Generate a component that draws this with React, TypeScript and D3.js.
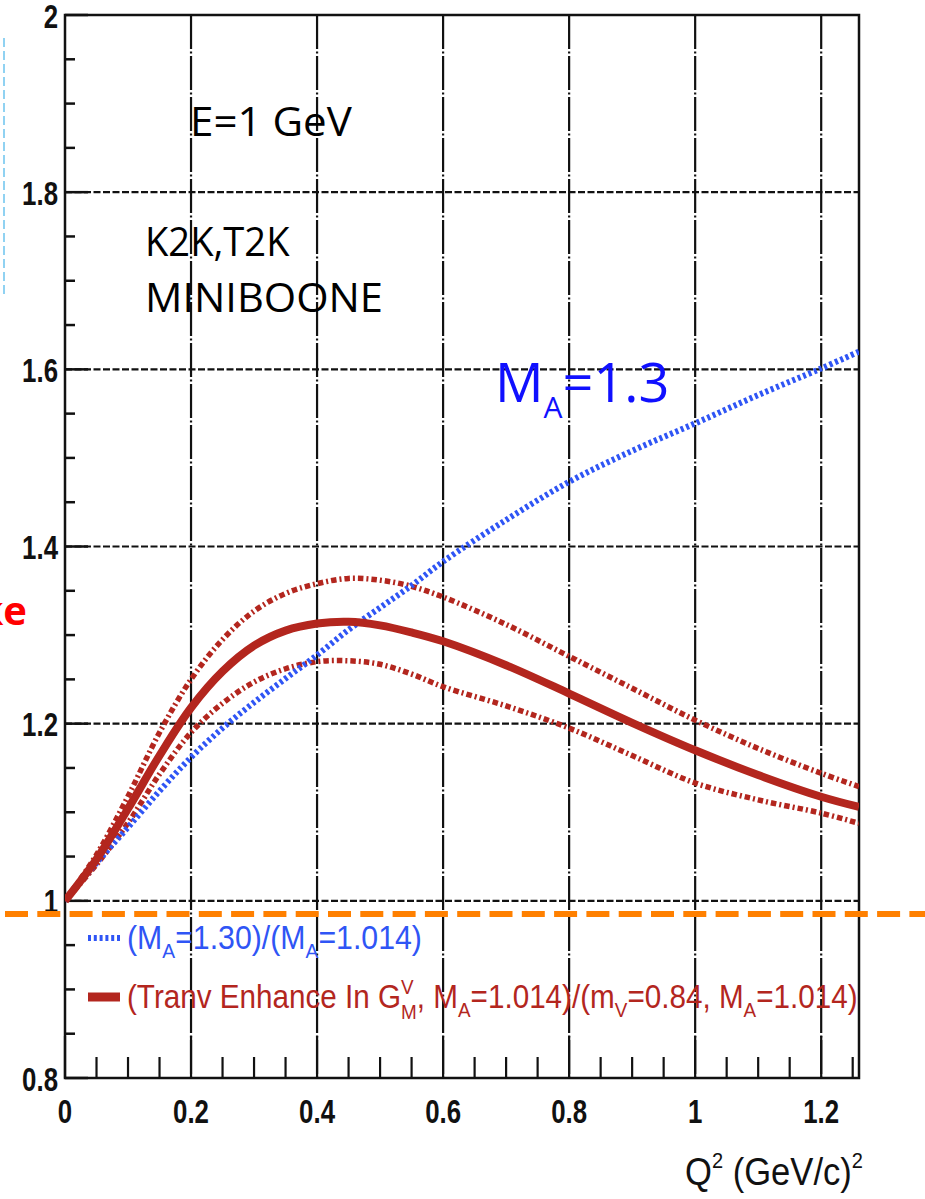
import React, { useLayoutEffect, useRef, useState } from "react";
import * as d3 from "d3";

// Q^2 sample points (GeV/c)^2
const q2 = [0, 0.05, 0.1, 0.15, 0.2, 0.25, 0.3, 0.35, 0.4, 0.45, 0.5, 0.55, 0.6, 0.7, 0.8, 0.9, 1.0, 1.1, 1.2, 1.26];
// (M_A=1.30)/(M_A=1.014)
const ratioMA = [1.0, 1.043, 1.083, 1.124, 1.162, 1.195, 1.224, 1.251, 1.2775, 1.306, 1.331, 1.356, 1.383, 1.43, 1.473, 1.508, 1.539, 1.571, 1.601, 1.62];
// Transverse enhancement ratio: central value and band edges
const tranvCentral = [1.0, 1.047, 1.104, 1.164, 1.218, 1.259, 1.288, 1.305, 1.313, 1.315, 1.311, 1.303, 1.293, 1.266, 1.234, 1.201, 1.17, 1.142, 1.1175, 1.106];
const tranvUpper = [1.0, 1.052, 1.118, 1.19, 1.25, 1.295, 1.327, 1.347, 1.358, 1.364, 1.362, 1.355, 1.343, 1.312, 1.276, 1.24, 1.204, 1.172, 1.144, 1.129];
const tranvLower = [1.0, 1.041, 1.088, 1.143, 1.19, 1.223, 1.247, 1.262, 1.27, 1.271, 1.267, 1.256, 1.2417, 1.22, 1.195, 1.164, 1.133, 1.114, 1.099, 1.0875];

const xMajorTicks = [0, 0.2, 0.4, 0.6, 0.8, 1.0, 1.2];
const xTickLabels = ["0", "0.2", "0.4", "0.6", "0.8", "1", "1.2"];
const yMajorTicks = [0.8, 1.0, 1.2, 1.4, 1.6, 1.8, 2.0];
const yTickLabels = ["0.8", "1", "1.2", "1.4", "1.6", "1.8", "2"];

const RED = "#b3261e";
const BLUE = "#2f55f5";

type FitProps = {
  x: number;
  y: number;
  width: number;
  anchor?: "start" | "end";
  children: React.ReactNode;
  [k: string]: any;
};

// Text whose horizontal extent is stretched/condensed to a given width.
function FitText({ x, y, width, anchor = "start", children, ...rest }: FitProps) {
  const ref = useRef<SVGTextElement>(null);
  const [sx, setSx] = useState(1);
  useLayoutEffect(() => {
    if (ref.current) {
      const w = ref.current.getBBox().width;
      if (w > 0) setSx(width / w);
    }
  }, [width]);
  return (
    <g transform={`translate(${x},${y}) scale(${sx},1)`}>
      <text ref={ref} x={0} y={0} textAnchor={anchor} {...rest}>
        {children}
      </text>
    </g>
  );
}

export default function App() {
  const W = 925;
  const H = 1199;
  const x = d3.scaleLinear().domain([0, 1.26]).range([65, 859]);
  const y = d3.scaleLinear().domain([0.8, 2.0]).range([1078, 15]);

  const line = (vals: number[]) =>
    d3
      .line<number>()
      .x((_, i) => x(q2[i]))
      .y((v) => y(v))
      .curve(d3.curveCatmullRom.alpha(0.5))(vals) as string;

  const xMinor = d3.range(0, 1.2601, 0.05).filter((v) => Math.abs(v / 0.2 - Math.round(v / 0.2)) > 1e-6);
  const yMinor = d3.range(0.8, 2.0001, 0.05).filter((v) => Math.abs((v - 0.8) / 0.2 - Math.round((v - 0.8) / 0.2)) > 1e-6);

  const [x0, x1] = x.range();
  const [yb, yt] = y.range();

  const tickFont = { fontFamily: "'Liberation Sans', Arial, sans-serif", fontWeight: 700, fontSize: 34, fill: "#111" };
  const rootFont = "'Liberation Sans', Arial, sans-serif";
  const slideFont = "'Open Sans', 'Liberation Sans', sans-serif";

  return (
    <svg width={W} height={H} style={{ position: "absolute", left: 0, top: 0, background: "#fff" }}>
      <defs>
        <clipPath id="plotArea">
          <rect x={x0} y={yt} width={x1 - x0} height={yb - yt} />
        </clipPath>
      </defs>
      <rect x={0} y={0} width={W} height={H} fill="#fff" />

      {/* grid */}
      {yMajorTicks
        .filter((v) => v > 0.8 && v < 2.0)
        .map((v) => (
          <line key={"gy" + v} x1={x0} x2={x1} y1={y(v)} y2={y(v)} stroke="#111" strokeWidth={2.2} strokeDasharray="7,2.5" />
        ))}
      {xMajorTicks
        .filter((v) => v > 0)
        .map((v) => (
          <line key={"gx" + v} x1={x(v)} x2={x(v)} y1={yt} y2={yb} stroke="#111" strokeWidth={2.2} strokeDasharray="34,2.5,2,2.5" />
        ))}

      {/* frame and ticks */}
      <rect x={x0} y={yt} width={x1 - x0} height={yb - yt} fill="none" stroke="#111" strokeWidth={2.5} />
      {yMajorTicks.map((v) => (
        <line key={"ty" + v} x1={x0} x2={x0 + 23} y1={y(v)} y2={y(v)} stroke="#111" strokeWidth={2.5} />
      ))}
      {yMinor.map((v) => (
        <line key={"tym" + v} x1={x0} x2={x0 + 10} y1={y(v)} y2={y(v)} stroke="#111" strokeWidth={2.5} />
      ))}
      {xMajorTicks.map((v) => (
        <line key={"tx" + v} x1={x(v)} x2={x(v)} y1={yb} y2={yb - 42} stroke="#111" strokeWidth={2.2} />
      ))}
      {xMinor.map((v) => (
        <line key={"txm" + v} x1={x(v)} x2={x(v)} y1={yb} y2={yb - 21} stroke="#111" strokeWidth={2.2} />
      ))}

      {/* tick labels */}
      {yMajorTicks.map((v, i) => (
        <g key={"ly" + v} transform={`translate(58,${y(v) + 12.5}) scale(0.76,1)`}>
          <text textAnchor="end" {...tickFont}>
            {yTickLabels[i]}
          </text>
        </g>
      ))}
      {xMajorTicks.map((v, i) => (
        <g key={"lx" + v} transform={`translate(${x(v)},1123) scale(0.76,1)`}>
          <text textAnchor="middle" {...tickFont}>
            {xTickLabels[i]}
          </text>
        </g>
      ))}

      {/* axis title */}
      <FitText x={685} y={1185} width={178} fontFamily={rootFont} fontSize={38} fill="#111">
        Q<tspan fontSize={22} dy={-17}>2</tspan>
        <tspan dy={17}> (GeV/c)</tspan>
        <tspan fontSize={22} dy={-17}>2</tspan>
      </FitText>

      {/* curves */}
      <g clipPath="url(#plotArea)" fill="none">
        <path d={line(tranvUpper)} stroke={RED} strokeWidth={5.5} strokeDasharray="5.5,3,2,3" />
        <path d={line(tranvLower)} stroke={RED} strokeWidth={5.5} strokeDasharray="5.5,3,2,3" />
        <path d={line(ratioMA)} stroke={BLUE} strokeWidth={6} strokeDasharray="3,2.8" />
        <path d={line(tranvCentral)} stroke={RED} strokeWidth={8} />
      </g>

      {/* legend */}
      <line x1={88} x2={120} y1={938} y2={938} stroke={BLUE} strokeWidth={6} strokeDasharray="3,2.8" />
      <FitText x={127} y={949} width={295} fontFamily={rootFont} fontSize={33} fill={BLUE}>
        (M<tspan fontSize={21} dy={9}>A</tspan>
        <tspan dy={-9}>=1.30)/(M</tspan>
        <tspan fontSize={21} dy={9}>A</tspan>
        <tspan dy={-9}>=1.014)</tspan>
      </FitText>
      <line x1={88} x2={120} y1={997} y2={997} stroke={RED} strokeWidth={9} />
      <FitText x={127} y={1008} width={731} fontFamily={rootFont} fontSize={33} fill={RED}>
        (Tranv Enhance In G<tspan fontSize={21} dy={-14}>V</tspan>
        <tspan fontSize={21} dx={-14} dy={25}>M</tspan>
        <tspan dy={-11}>, M</tspan>
        <tspan fontSize={21} dy={9}>A</tspan>
        <tspan dy={-9}>=1.014)/(m</tspan>
        <tspan fontSize={21} dy={9}>V</tspan>
        <tspan dy={-9}>=0.84, M</tspan>
        <tspan fontSize={21} dy={9}>A</tspan>
        <tspan dy={-9}>=1.014)</tspan>
      </FitText>

      {/* reference level */}
      <line x1={5} x2={W} y1={914} y2={914} stroke="#ff8000" strokeWidth={6} strokeDasharray="23,9.3" />

      {/* annotations */}
      <FitText x={190} y={136} width={162} fontFamily={slideFont} fontSize={40} fill="#000">
        E=1 GeV
      </FitText>
      <FitText x={145} y={256} width={145} fontFamily={slideFont} fontSize={40} fill="#000">
        K2K,T2K
      </FitText>
      <FitText x={145} y={312} width={238} fontFamily={slideFont} fontSize={40} fill="#000">
        MINIBOONE
      </FitText>
      <text x={495} y={402} fontFamily={slideFont} fontSize={54} fill="#1010ff">
        M<tspan fontSize={30} dy={16}>A</tspan>
        <tspan dy={-16}>=1.3</tspan>
      </text>
      <text x={27} y={625} textAnchor="end" fontFamily={slideFont} fontWeight={700} fontSize={40} fill="#ff0000">
        ke
      </text>
      <line x1={4} x2={4} y1={38} y2={297} stroke="#6cc3ee" strokeWidth={1.5} strokeDasharray="9,4" />
    </svg>
  );
}
